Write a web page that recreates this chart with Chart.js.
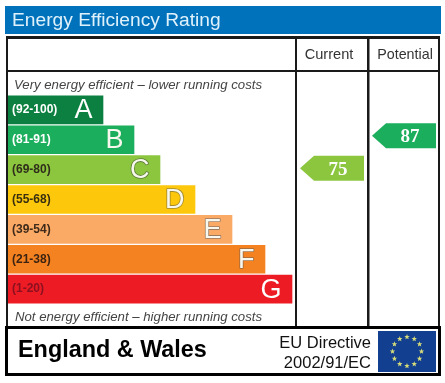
<!DOCTYPE html>
<html>
<head>
<meta charset="utf-8">
<style>
  html, body { margin: 0; padding: 0; background: #fff; }
  canvas { display: block; }
</style>
<script src="https://cdn.jsdelivr.net/npm/chart.js@4"></script>
</head>
<body>
<canvas id="epc" width="445" height="383"></canvas>
<script>
// data
const letters = ['A', 'B', 'C', 'D', 'E', 'F', 'G'];
const ranges = ['(92-100)', '(81-91)', '(69-80)', '(55-68)', '(39-54)', '(21-38)', '(1-20)'];
const bandFloors = [92, 81, 69, 55, 39, 21, 1];
const barLengths = [96, 127, 153, 188, 225, 258, 285];
const ratingValues = [75, 87]; // current, potential

const barColors = ['#0b8040', '#1bae5c', '#8cc63f', '#fdc70c', '#fbaa65', '#f58220', '#ed1c24'];
const rangeColors = ['#ffffff', '#ffffff', '#2e2e1a', '#3a3010', '#3d2a1a', '#3d2412', '#8c1020'];
const letterEdges = ['#0b8040', '#1bae5c', '#5c7d35', '#a08a30', '#9a7a60', '#9a6a40', '#ed1c24'];
const pointerNudge = [-1.5, -4];

const FONT = '"Liberation Sans", Arial, sans-serif';

function bandIndex(value) {
    return bandFloors.findIndex(f => value >= f);
}

function text(ctx, str, x, y, font, color, align) {
    ctx.font = font;
    ctx.fillStyle = color;
    ctx.textAlign = align || 'left';
    ctx.textBaseline = 'alphabetic';
    ctx.fillText(str, x, y);
}

function drawFlag(ctx, x, y, w, h) {
    ctx.fillStyle = '#123f8f';
    ctx.fillRect(x, y, w, h);
    const cx = x + w / 2, cy = y + h / 2, r = 14.5;
    ctx.fillStyle = '#d6dc7a';
    for (let i = 0; i < 12; i++) {
        const a = i * Math.PI / 6;
        const sx = cx + r * Math.sin(a), sy = cy - r * Math.cos(a);
        ctx.beginPath();
        for (let k = 0; k < 10; k++) {
            const rad = k % 2 ? 1.2 : 2.9;
            const t = k * Math.PI / 5;
            ctx.lineTo(sx + rad * Math.sin(t), sy - rad * Math.cos(t));
        }
        ctx.closePath();
        ctx.fill();
    }
}

// title banner, frame and footer
const framePlugin = {
    id: 'frame',
    beforeDraw(chart) {
        const { ctx } = chart;
        ctx.save();
        ctx.fillStyle = '#fff';
        ctx.fillRect(0, 0, 445, 383);
        ctx.fillStyle = '#0072bc';
        ctx.fillRect(5, 6, 436, 28);
        text(ctx, 'Energy Efficiency Rating', 12, 26, '19.2px ' + FONT, '#dff1fb');
        ctx.restore();
    },
    afterDraw(chart) {
        const { ctx, chartArea } = chart;
        const col1 = chartArea.right;
        ctx.save();
        ctx.fillStyle = '#1a1a1a';
        ctx.fillRect(6, 36, 434, 3);      // top
        ctx.fillRect(6, 70, 434, 2);      // under header
        ctx.fillRect(6, 36, 2, 290);      // left
        ctx.fillRect(col1, 36, 2, 290);
        ctx.fillRect(367, 36, 2.5, 290);
        ctx.fillRect(438, 36, 2, 290);

        text(ctx, 'Current', 329, 59, '14.6px ' + FONT, '#333', 'center');
        text(ctx, 'Potential', 405, 59, '14.3px ' + FONT, '#333', 'center');
        text(ctx, 'Very energy efficient \u2013 lower running costs', 14, 89, 'italic 13.2px ' + FONT, '#444');
        text(ctx, 'Not energy efficient \u2013 higher running costs', 15, 321, 'italic 13.2px ' + FONT, '#444');

        // footer box
        ctx.fillStyle = '#000';
        ctx.fillRect(5, 326, 436, 3);
        ctx.fillRect(5, 373, 436, 3);
        ctx.fillRect(5, 326, 3, 50);
        ctx.fillRect(438, 326, 3, 50);
        text(ctx, 'England & Wales', 18, 357, 'bold 23.4px ' + FONT, '#000');
        text(ctx, 'EU Directive', 371, 348, '16.5px ' + FONT, '#111', 'right');
        text(ctx, '2002/91/EC', 371, 368, '16.5px ' + FONT, '#111', 'right');
        drawFlag(ctx, 378, 331, 58, 41);
        ctx.restore();
    }
};

// big letters at the end of each bar
const letterPlugin = {
    id: 'barLetters',
    afterDatasetsDraw(chart) {
        const { ctx } = chart;
        ctx.save();
        ctx.font = '27px ' + FONT;
        ctx.textAlign = 'right';
        ctx.textBaseline = 'middle';
        ctx.lineJoin = 'round';
        chart.getDatasetMeta(0).data.forEach((bar, i) => {
            ctx.lineWidth = 1.6;
            ctx.strokeStyle = letterEdges[i];
            ctx.strokeText(letters[i], bar.x - 10.5, bar.y + 1);
            ctx.fillStyle = i === 0 || i === 6 ? '#ffffff' : '#f8f8ee';
            ctx.fillText(letters[i], bar.x - 10.5, bar.y + 1);
        });
        ctx.restore();
    }
};

// current / potential arrows, placed on the row of their band
const pointerPlugin = {
    id: 'pointers',
    afterDatasetsDraw(chart) {
        const { ctx, scales, chartArea } = chart;
        const tips = [chartArea.right + 5, chartArea.right + 77];
        ctx.save();
        ratingValues.forEach((value, i) => {
            const band = bandIndex(value);
            const y = scales.y.getPixelForValue(band) + pointerNudge[i];
            const x = tips[i];
            ctx.fillStyle = barColors[band];
            ctx.beginPath();
            ctx.moveTo(x, y);
            ctx.lineTo(x + 14, y - 12.5);
            ctx.lineTo(x + 64, y - 12.5);
            ctx.lineTo(x + 64, y + 12.5);
            ctx.lineTo(x + 14, y + 12.5);
            ctx.closePath();
            ctx.fill();
            text(ctx, String(value), x + 38, y + 6.5, 'bold 19px "Liberation Serif", serif', '#ffffff', 'center');
        });
        ctx.restore();
    }
};

new Chart(document.getElementById('epc').getContext('2d'), {
    type: 'bar',
    data: {
        labels: ranges,
        datasets: [{
            data: barLengths,
            backgroundColor: barColors,
            barThickness: 28,
            borderWidth: 0
        }]
    },
    options: {
        indexAxis: 'y',
        responsive: false,
        animation: false,
        layout: { padding: { left: 7, top: 95, right: 150, bottom: 79 } },
        plugins: { legend: { display: false }, tooltip: { enabled: false } },
        scales: {
            x: { display: false, min: 0, max: 288 },
            y: {
                afterFit(scale) { scale.width = 0; }, // labels sit inside the bars
                border: { display: false },
                grid: { display: false, drawTicks: false },
                ticks: {
                    mirror: true,
                    padding: 5,
                    z: 1,
                    color: ctx => rangeColors[ctx.index],
                    font: { family: FONT, size: 12, weight: 'bold' }
                }
            }
        }
    },
    plugins: [framePlugin, letterPlugin, pointerPlugin]
});
</script>
</body>
</html>
